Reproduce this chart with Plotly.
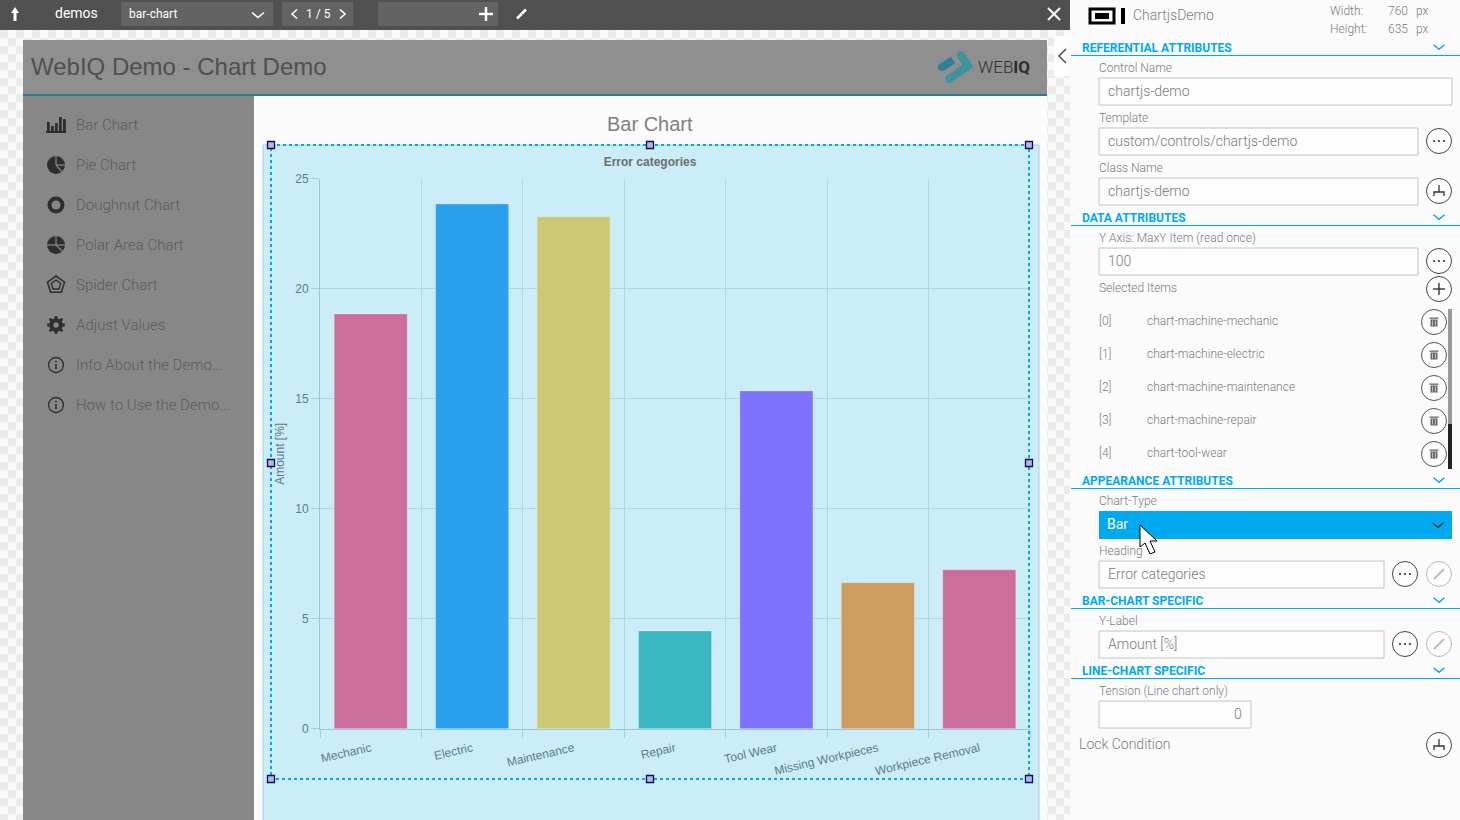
import math
import plotly.graph_objects as go

W = 1460
H = 820

categories = ['Mechanic', 'Electric', 'Maintenance', 'Repair', 'Tool Wear', 'Missing Workpieces', 'Workpiece Removal']
amounts = [18.86, 23.86, 23.27, 4.45, 15.36, 6.64, 7.23]
bar_colors = ['#cb6e99', '#2ba0ee', '#ccc873', '#3cb7c4', '#7f72fc', '#cd9e60', '#cb6e99']
y_ticks = [0, 5, 10, 15, 20, 25]

nav_labels = ['Bar Chart', 'Pie Chart', 'Doughnut Chart', 'Polar Area Chart', 'Spider Chart',
              'Adjust Values', 'Info About the Demo...', 'How to Use the Demo...']
selected_items = ['chart-machine-mechanic', 'chart-machine-electric', 'chart-machine-maintenance',
                  'chart-machine-repair', 'chart-tool-wear']

BLUE = '#00aaf0'
GREY_TEXT = '#7c7c7c'
ICON = '#333333'
NAV_ICON = '#2e2e2e'
SIDEBAR = '#878787'

shapes = []
notes = []


def fx(x):
    return x / W


def fy(y):
    return 1 - y / H


def rect(x0, y0, x1, y1, fill=None, line=None, lw=1, layer='below', dash=None):
    shapes.append(dict(type='rect', xref='paper', yref='paper', x0=fx(x0), x1=fx(x1), y0=fy(y0), y1=fy(y1),
                       fillcolor=fill or 'rgba(0,0,0,0)',
                       line=dict(color=line or 'rgba(0,0,0,0)', width=lw if line else 0, dash=dash),
                       layer=layer))


def circle(cx, cy, r, fill=None, line=None, lw=1, layer='below'):
    shapes.append(dict(type='circle', xref='paper', yref='paper', x0=fx(cx - r), x1=fx(cx + r),
                       y0=fy(cy - r), y1=fy(cy + r), fillcolor=fill or 'rgba(0,0,0,0)',
                       line=dict(color=line or 'rgba(0,0,0,0)', width=lw if line else 0), layer=layer))


def poly(points, fill=None, line=None, lw=1, close=False, layer='below'):
    d = 'M' + ' L'.join(f'{fx(x):.5f},{fy(y):.5f}' for x, y in points)
    if close:
        d += ' Z'
    shapes.append(dict(type='path', xref='paper', yref='paper', path=d, fillcolor=fill or 'rgba(0,0,0,0)',
                       line=dict(color=line or 'rgba(0,0,0,0)', width=lw if line else 0), layer=layer))


def label(x, y, text, size=12, color=GREY_TEXT, anchor='left', family='Roboto', weight=300):
    notes.append(dict(xref='paper', yref='paper', x=fx(x), y=fy(y), text=text, showarrow=False,
                      xanchor=anchor, yanchor='middle', borderpad=0, borderwidth=0,
                      font=dict(family=family, size=size, color=color, weight=weight)))


def chevron_down(cx, cy, w=5, h=4, color=BLUE, lw=1.5):
    poly([(cx - w, cy - h / 2), (cx, cy + h / 2), (cx + w, cy - h / 2)], line=color, lw=lw)


def section(y, text):
    label(1082, y, text, 12, BLUE, weight=700)
    rect(1071, y + 7, 1460, y + 8, fill=BLUE)
    chevron_down(1439, y - 1, 5.5, 4.5)


def field(x0, y0, x1, text, anchor='left'):
    rect(x0, y0, x1, y0 + 27, fill='#fdfdfd', line='#c4c4c4', lw=1)
    if anchor == 'left':
        label(x0 + 9, y0 + 13, text, 14, GREY_TEXT)
    else:
        label(x1 - 9, y0 + 13, text, 14, GREY_TEXT, anchor='right')


def dots_button(cx, cy):
    circle(cx, cy, 12.5, fill='#fdfdfd', line='#444444', lw=1)
    for dx in (-5, 0, 5):
        circle(cx + dx, cy, 1.1, fill='#333333')


def tree_button(cx, cy):
    circle(cx, cy, 12.5, fill='#fdfdfd', line='#444444', lw=1)
    poly([(cx, cy - 6), (cx, cy + 1)], line=ICON, lw=1.3)
    poly([(cx - 5, cy + 5), (cx - 5, cy + 1), (cx + 5, cy + 1), (cx + 5, cy + 5)], line=ICON, lw=1.3)


def plus_button(cx, cy):
    circle(cx, cy, 12.5, fill='#fdfdfd', line='#444444', lw=1)
    poly([(cx - 6, cy), (cx + 6, cy)], line=ICON, lw=1.4)
    poly([(cx, cy - 6), (cx, cy + 6)], line=ICON, lw=1.4)


def trash_button(cx, cy):
    circle(cx, cy, 12.5, fill='#fdfdfd', line='#555555', lw=1)
    rect(cx - 3.5, cy - 2.5, cx + 3.5, cy + 4.5, fill='#666666')
    rect(cx - 4.5, cy - 4.5, cx + 4.5, cy - 3.2, fill='#666666')
    for dx in (-1.4, 1.4):
        poly([(cx + dx, cy - 1.5), (cx + dx, cy + 3.5)], line='#e4e4e4', lw=0.8)


def pencil_button(cx, cy):
    circle(cx, cy, 12.5, fill='#fdfdfd', line='#bbbbbb', lw=1)
    poly([(cx - 5, cy + 5), (cx + 5, cy - 5)], line='#bbbbbb', lw=2)


# page background, checkerboard around the stage
rect(0, 30, 1070, H, fill='#fafafa')
CELL = 8
check = []
for row in range(0, (H - 30) // CELL + 1):
    for col in range(0, 1070 // CELL + 1):
        x = col * CELL
        y = 30 + row * CELL
        inside = 23 <= x and x + CELL <= 1047 and y >= 40
        if (row + col) % 2 == 0 and not inside:
            check.append(f'M{fx(x):.5f},{fy(y):.5f} L{fx(x + CELL):.5f},{fy(y):.5f} '
                         f'L{fx(x + CELL):.5f},{fy(y + CELL):.5f} L{fx(x):.5f},{fy(y + CELL):.5f} Z')
shapes.append(dict(type='path', xref='paper', yref='paper', path=' '.join(check), fillcolor='#ebebeb',
                   line=dict(width=0), layer='below'))

# top toolbar
rect(0, 0, 1070, 30, fill='#505050')
rect(121, 2, 273, 26, fill='#636363')
rect(282, 2, 353, 26, fill='#636363')
rect(378, 2, 498, 26, fill='#636363')
poly([(15, 7), (19, 13), (16.5, 13), (16.5, 21), (13.5, 21), (13.5, 13), (11, 13)], fill='#ffffff', close=True)
label(55, 13, 'demos', 14, '#ffffff', weight=400)
label(129, 14, 'bar-chart', 12, '#ffffff', weight=400)
chevron_down(258, 15, 6, 5, '#ffffff', 1.6)
poly([(297, 9.5), (292, 14), (297, 18.5)], line='#ffffff', lw=1.6)
poly([(340, 9.5), (345, 14), (340, 18.5)], line='#ffffff', lw=1.6)
label(318, 14, '1 / 5', 12, '#ffffff', anchor='center', weight=400)
poly([(479, 14), (493, 14)], line='#ffffff', lw=2.4)
poly([(486, 7), (486, 21)], line='#ffffff', lw=2.4)
poly([(517, 18.5), (526, 9.5)], line='#ffffff', lw=2.6)
poly([(1048, 8), (1060, 20)], line='#ffffff', lw=2)
poly([(1060, 8), (1048, 20)], line='#ffffff', lw=2)

# stage: header, sidebar, content
rect(23, 40, 1047, 94, fill='#8f8f8f')
rect(23, 94, 1047, 96, fill='#2a7e8c')
rect(23, 96, 254, H, fill=SIDEBAR)
rect(254, 96, 1047, H, fill='#fbfbfb')
rect(1054, 36, 1070, 76, fill='#fdfdfd')
poly([(1066, 49), (1059, 56), (1066, 63)], line='#444444', lw=1.4)
label(31, 67, 'WebIQ Demo - Chart Demo', 24, '#505050', family='Liberation Sans', weight=400)
label(650, 124, 'Bar Chart', 20, '#808080', anchor='center', family='Liberation Sans', weight=400)

# logo
poly([(942, 67), (953, 60)], line='#2f7f9a', lw=8)
circle(942, 67, 4, fill='#2f7f9a')
poly([(961, 55), (968, 66), (949, 79)], line='#3f93a0', lw=8)
circle(961, 55, 4, fill='#3f93a0')
circle(949, 79, 4, fill='#3f93a0')
label(978, 67, 'WEB<b>IQ</b>', 17, '#2e2e2e', family='Roboto', weight=300)

# sidebar navigation
for i, name in enumerate(nav_labels):
    label(76, 125 + 40 * i, name, 15, '#5c5c5c')

# bar icon
rect(46, 131, 66, 133, fill=NAV_ICON)
for x, top in zip((47, 51, 55, 59, 63), (122, 126, 123, 117, 119)):
    rect(x, top, x + 2.8, 133, fill=NAV_ICON)
# pie icon
circle(56, 165, 9, fill=NAV_ICON)
poly([(56, 165), (66, 165)], line=SIDEBAR, lw=1.2)
poly([(56, 165), (63, 173)], line=SIDEBAR, lw=1.2)
poly([(56, 165), (56, 155)], line=SIDEBAR, lw=1.2)
# doughnut icon
circle(56, 205, 6.5, line=NAV_ICON, lw=4)
# polar icon
circle(56, 245, 9, fill=NAV_ICON)
poly([(46, 245), (66, 245)], line=SIDEBAR, lw=1.2)
poly([(56, 245), (63, 252)], line=SIDEBAR, lw=1.2)
poly([(56, 245), (56, 235)], line=SIDEBAR, lw=1.2)
# spider icon
for r, lw in ((9, 1.6), (5, 1.4)):
    pts = [(56 + r * math.sin(2 * math.pi * k / 5), 285 - r * math.cos(2 * math.pi * k / 5)) for k in range(5)]
    poly(pts, line=NAV_ICON, lw=lw, close=True)
# gear icon
circle(56, 325, 4.8, line=NAV_ICON, lw=4)
for k in range(8):
    a = 2 * math.pi * k / 8
    poly([(56 + 6 * math.cos(a), 325 + 6 * math.sin(a)), (56 + 8.8 * math.cos(a), 325 + 8.8 * math.sin(a))],
         line=NAV_ICON, lw=3)
# info icons
for cy in (365, 405):
    circle(56, cy, 7.5, line=NAV_ICON, lw=1.3)
    poly([(56, cy - 1), (56, cy + 4)], line=NAV_ICON, lw=1.6)
    circle(56, cy - 3.5, 0.9, fill=NAV_ICON)

# chart card
rect(263, 145, 1039, H + 5, fill='#caedf8', line='#a6cfdf', lw=1)

# right panel
rect(1070, 0, W, H, fill='#fbfbfb')
rect(1090, 9, 1114, 23, line='#000000', lw=3)
rect(1095, 13, 1109, 19, fill='#000000')
rect(1121, 8, 1125, 24, fill='#000000')
label(1133, 15, 'ChartjsDemo', 14)
label(1330, 11, 'Width:')
label(1330, 29, 'Height:')
label(1388, 11, '760')
label(1388, 29, '635')
label(1416, 11, 'px')
label(1416, 29, 'px')

section(48, 'REFERENTIAL ATTRIBUTES')
label(1099, 68, 'Control Name')
field(1099, 78, 1452, 'chartjs-demo')
label(1099, 118, 'Template')
field(1099, 128, 1418, 'custom/controls/chartjs-demo')
dots_button(1439, 141)
label(1099, 168, 'Class Name')
field(1099, 178, 1418, 'chartjs-demo')
tree_button(1439, 191)

section(218, 'DATA ATTRIBUTES')
label(1099, 238, 'Y Axis: MaxY Item (read once)')
field(1099, 248, 1418, '100')
dots_button(1439, 261)
label(1099, 288, 'Selected Items')
plus_button(1439, 289)
for i, item in enumerate(selected_items):
    cy = 321 + 33 * i
    label(1099, cy, f'[{i}]')
    label(1147, cy, item)
    trash_button(1434, cy + 1)
rect(1448, 309, 1452, 424, fill='#999999')
rect(1448, 424, 1452, 469, fill='#222222')

section(481, 'APPEARANCE ATTRIBUTES')
label(1099, 501, 'Chart-Type')
rect(1099, 511, 1452, 539, fill=BLUE)
label(1107, 524, 'Bar', 14, '#ffffff', weight=400)
chevron_down(1438, 525, 5.5, 4.5, '#333333', 1.5)
label(1099, 551, 'Heading')
field(1099, 561, 1384, 'Error categories')
dots_button(1405, 574)
pencil_button(1439, 574)

section(601, 'BAR-CHART SPECIFIC')
label(1099, 621, 'Y-Label')
field(1099, 631, 1384, 'Amount [%]')
dots_button(1405, 644)
pencil_button(1439, 644)

section(671, 'LINE-CHART SPECIFIC')
label(1099, 691, 'Tension (Line chart only)')
field(1099, 701, 1251, '0', anchor='right')
label(1079, 744, 'Lock Condition', 14)
tree_button(1439, 745)

# selection frame with handles
rect(271, 145, 1029, 779, line=BLUE, lw=2, dash='dot', layer='above')
for hx in (271, 650, 1029):
    for hy in (145, 463, 779):
        if hx == 650 and hy == 463:
            continue
        rect(hx - 3.5, hy - 3.5, hx + 3.5, hy + 3.5, fill='#b9bcc6', line='#0a0a78', lw=1.3, layer='above')

# mouse pointer
poly([(1140, 525), (1140, 547), (1145, 543), (1150, 554), (1155, 552), (1150, 541), (1157, 541)],
     fill='#ffffff', line='#000000', lw=1, close=True, layer='above')

fig = go.Figure()
fig.add_trace(go.Bar(
    x=categories,
    y=amounts,
    width=0.72,
    marker=dict(color=bar_colors, line=dict(color='rgba(255,255,255,0.25)', width=1)),
    showlegend=False,
))
fig.update_layout(
    width=W,
    height=H,
    margin=dict(l=0, r=0, t=0, b=0, pad=0),
    paper_bgcolor='#fafafa',
    plot_bgcolor='rgba(0,0,0,0)',
    shapes=shapes,
    annotations=notes,
    title=dict(text='<b>Error categories</b>', x=650 / W, xanchor='center', xref='paper',
               y=1 - 162 / H, yanchor='middle', yref='container',
               font=dict(family='Liberation Sans', size=12, color='#6e6e6e')),
    xaxis=dict(
        domain=[320 / W, 1030 / W],
        type='category',
        tickson='boundaries',
        tickangle=-13,
        ticks='outside',
        ticklen=8,
        tickcolor='#a9cddb',
        ticklabelstandoff=7,
        showgrid=True,
        gridcolor='#b4d5e2',
        gridwidth=1,
        showline=True,
        linecolor='#9cc4d4',
        tickfont=dict(family='Liberation Sans', size=12, color='#607a8a'),
        automargin=False,
        fixedrange=True,
    ),
    yaxis=dict(
        domain=[1 - 728.8 / H, 1 - 178.8 / H],
        range=[0, 25],
        tickvals=y_ticks,
        ticks='outside',
        ticklen=8,
        tickcolor='#a9cddb',
        showgrid=True,
        gridcolor='#b4d5e2',
        gridwidth=1,
        zeroline=False,
        showline=True,
        linecolor='#9cc4d4',
        tickfont=dict(family='Liberation Sans', size=12, color='#607a8a'),
        title=dict(text='Amount [%]', standoff=8,
                   font=dict(family='Liberation Sans', size=12, color='#607a8a')),
        automargin=False,
        fixedrange=True,
    ),
)

fig.write_html('out.html', config={'displayModeBar': False},
               post_script="document.body.style.margin='0';document.body.style.overflow='hidden';")
